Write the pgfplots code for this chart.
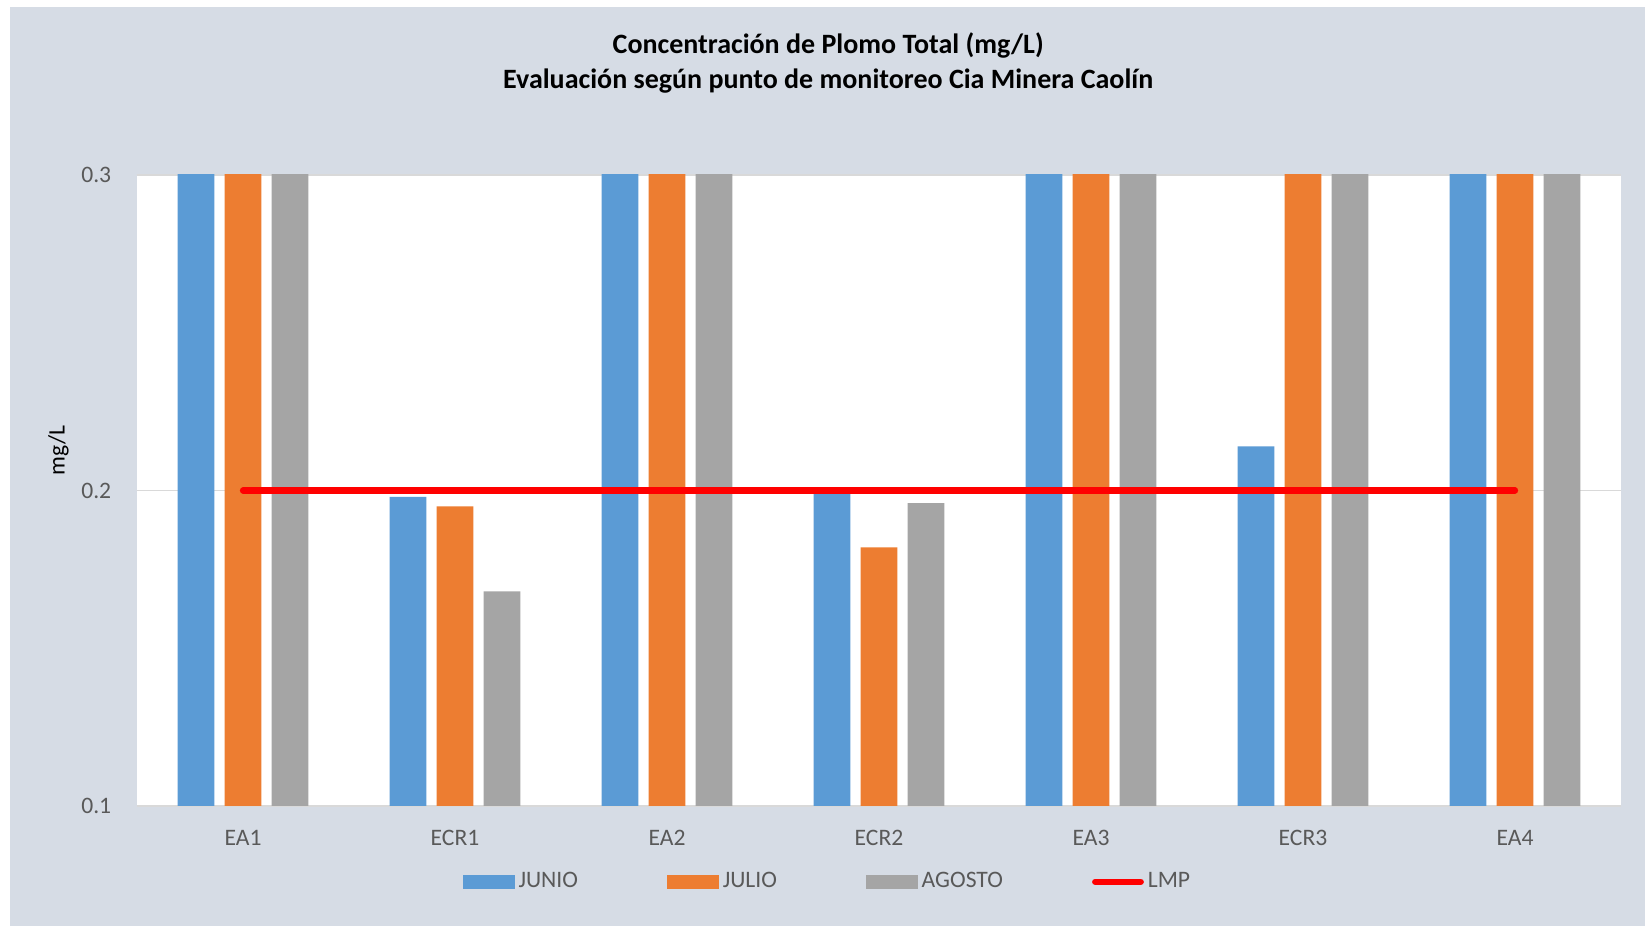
\documentclass[border=0pt]{standalone}
\usepackage{fontspec}
\setmainfont{Carlito}
\usepackage{pgfplots}
\pgfplotsset{compat=1.18}
\definecolor{panel}{HTML}{D6DCE5}
\definecolor{cblue}{HTML}{5B9BD5}
\definecolor{corange}{HTML}{ED7D31}
\definecolor{cgray}{HTML}{A5A5A5}
\definecolor{gridc}{HTML}{D9D9D9}
\definecolor{txt}{HTML}{595959}
\begin{document}
\begin{tikzpicture}
\fill[white] (-68.5pt,-60pt) rectangle (754pt,403pt);
\fill[panel] (-63.25pt,-60pt) rectangle (754pt,399.5pt);
\begin{axis}[
  at={(0pt,0pt)}, anchor=south west,
  width=742pt, height=315.5pt, scale only axis,
  xmin=-0.5, xmax=6.5, ymin=0.1, ymax=0.3,
  xtick={0,1,2,3,4,5,6}, xticklabels={EA1,ECR1,EA2,ECR2,EA3,ECR3,EA4},
  ytick={0.1,0.2,0.3}, yticklabels={0.1,0.2,0.3},
  major tick length=0pt,
  ymajorgrids, grid style={gridc, line width=0.6pt},
  axis line style={draw=none},
  axis background/.style={fill=white},
  tick label style={font=\fontsize{11.8}{14}\selectfont, text=txt},
  yticklabel style={anchor=east, inner sep=0pt, xshift=-12.7pt},
  xticklabel style={anchor=base, inner sep=0pt, yshift=-19.85pt},
  ylabel={mg/L},
  every axis y label/.style={at={(axis description cs:-0.0529,0.564)}, rotate=90, anchor=center, font=\fontsize{11.8}{14}\selectfont, text=black},
  legend columns=4,
  legend style={at={(axis description cs:0.466,-0.1201)}, anchor=center, draw=none, fill=none,
    font=\fontsize{11.8}{14}\selectfont, text=txt, inner sep=0pt,
    /tikz/every even column/.append style={column sep=42.6pt}},
]
\addplot[ybar, bar width=18.35pt, bar shift=-23.5pt, fill=cblue, draw=none,
  legend image code/.code={\fill[cblue] (0pt,-3.5pt) rectangle (25.8pt,3.5pt);}]
  coordinates {(0,0.35) (1,0.198) (2,0.35) (3,0.199) (4,0.35) (5,0.214) (6,0.35)};
\addlegendentry{JUNIO}
\addplot[ybar, bar width=18.35pt, bar shift=0pt, fill=corange, draw=none,
  legend image code/.code={\fill[corange] (0pt,-3.5pt) rectangle (25.8pt,3.5pt);}]
  coordinates {(0,0.35) (1,0.195) (2,0.35) (3,0.182) (4,0.35) (5,0.35) (6,0.35)};
\addlegendentry{JULIO}
\addplot[ybar, bar width=18.35pt, bar shift=23.5pt, fill=cgray, draw=none,
  legend image code/.code={\fill[cgray] (0pt,-3.5pt) rectangle (25.8pt,3.5pt);}]
  coordinates {(0,0.35) (1,0.168) (2,0.35) (3,0.196) (4,0.35) (5,0.35) (6,0.35)};
\addlegendentry{AGOSTO}
\addplot[red, line width=3.1pt, line cap=round, mark=none,
  legend image code/.code={\draw[red, line width=3.1pt, line cap=round] (1.5pt,0pt) -- (24.3pt,0pt);}]
  coordinates {(0,0.2) (6,0.2)};
\addlegendentry{LMP}
\end{axis}
\node[anchor=base, font=\bfseries\fontsize{14}{16.8}\selectfont] at (345.6pt,376.3pt) {Concentración de Plomo Total (mg/L)};
\node[anchor=base, font=\bfseries\fontsize{14}{16.8}\selectfont] at (345.6pt,358.8pt) {Evaluación según punto de monitoreo Cia Minera Caolín};
\pgfresetboundingbox
\useasboundingbox (-68.5pt,-60pt) rectangle (754pt,403pt);
\end{tikzpicture}
\end{document}
